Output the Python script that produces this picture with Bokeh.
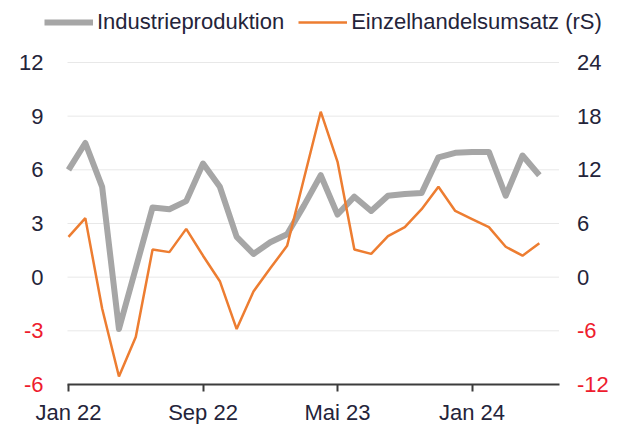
from bokeh.plotting import figure
from bokeh.models import (Range1d, FixedTicker, Legend, LegendItem,
                          LabelSet, ColumnDataSource)
from bokeh.embed import file_html
from bokeh.resources import INLINE
from bokeh.core.properties import value

# ---- data (month index 0 = Jan 22 ... 28 = Mai 24) ----
months = list(range(29))
industrie = [6.0, 7.5, 5.05, -2.9, 0.5, 3.9, 3.8, 4.25, 6.35, 5.05, 2.25, 1.3,
             1.95, 2.4, 4.0, 5.7, 3.5, 4.5, 3.7, 4.55, 4.65, 4.7, 6.7, 6.95,
             7.0, 7.0, 4.55, 6.8, 5.7]
einzelhandel = [4.5, 6.6, -3.5, -11.1, -6.7, 3.1, 2.8, 5.4, 2.4, -0.45, -5.8, -1.6,
                1.0, 3.5, 11.0, 18.5, 12.9, 3.1, 2.6, 4.6, 5.6, 7.6, 10.1, 7.4,
                6.5, 5.6, 3.4, 2.4, 3.8]
x_ticks = [0, 8, 16, 24]
x_tick_labels = ["Jan 22", "Sep 22", "Mai 23", "Jan 24"]
left_ticks = [-6, -3, 0, 3, 6, 9, 12]
right_ticks = [-12, -6, 0, 6, 12, 18, 24]
series_names = ["Industrieproduktion", "Einzelhandelsumsatz (rS)"]

# ---- style / layout ----
FONT = "Liberation Sans"
DARK = "#24243a"
RED = "#ee1c2e"
GREY = "#a6a6a6"
ORANGE = "#ed7d31"
GRID = "#e8e8e8"
AXIS = "#3c3c3c"
FS = "22px"

W, H = 608, 424                    # figure size
PL, PR, PT, PB = 67.0, 558.5, 62.0, 384.0   # plot-area pixels inside the figure
x0, x1 = -0.06, 29.17              # data range of the plot area
LEG_X, LEG_CY, LEG_H = 44, 23, 24  # legend left, vertical centre, height (px)

dx = (x1 - x0) / (PR - PL)
x_range = Range1d(x0 - PL * dx, x1 + (W - PR) * dx)
dyl = (left_ticks[-1] - left_ticks[0]) / (PB - PT)
dyr = (right_ticks[-1] - right_ticks[0]) / (PB - PT)
y_range = Range1d(left_ticks[0] - (H - PB) * dyl, left_ticks[-1] + PT * dyl)

p = figure(width=W, height=H, output_backend="svg", toolbar_location=None,
           x_range=x_range, y_range=y_range,
           min_border_left=0, min_border_right=0, min_border_top=0,
           min_border_bottom=0)
p.extra_y_ranges = {"r": Range1d(right_ticks[0] - (H - PB) * dyr,
                                 right_ticks[-1] + PT * dyr)}
p.outline_line_color = None
p.xgrid.visible = False
p.ygrid.visible = False
p.yaxis.visible = False

# horizontal gridlines across the plot area only
p.segment(x0=[x0] * len(left_ticks), x1=[x1] * len(left_ticks),
          y0=left_ticks, y1=left_ticks, line_color=GRID, line_width=1,
          level="underlay")

# x axis, fixed at the bottom of the value range
xa = p.xaxis[0]
xa.fixed_location = left_ticks[0]
xa.bounds = (x0, x1)
xa.ticker = FixedTicker(ticks=x_ticks)
xa.major_label_overrides = {t: l for t, l in zip(x_ticks, x_tick_labels)}
xa.axis_line_color = AXIS
xa.axis_line_width = 2
xa.major_tick_line_color = AXIS
xa.major_tick_line_width = 2
xa.major_tick_out = 7
xa.major_tick_in = 0
xa.minor_tick_line_color = None
xa.major_label_standoff = 8
xa.major_label_text_font = FONT
xa.major_label_text_font_size = FS
xa.major_label_text_color = DARK

# y tick labels (negative values in red)
def lab_color(t):
    return RED if t < 0 else DARK

src_l = ColumnDataSource(dict(x=[x0] * len(left_ticks), y=left_ticks,
                              text=[str(t) for t in left_ticks],
                              c=[lab_color(t) for t in left_ticks]))
src_r = ColumnDataSource(dict(x=[x1] * len(right_ticks), y=right_ticks,
                              text=[str(t) for t in right_ticks],
                              c=[lab_color(t) for t in right_ticks]))
p.add_layout(LabelSet(x="x", y="y", text="text", source=src_l, x_offset=-24,
                      text_align="right", text_baseline="middle", text_color="c",
                      text_font=value(FONT), text_font_size=FS))
p.add_layout(LabelSet(x="x", y="y", text="text", source=src_r, y_range_name="r",
                      x_offset=18, text_align="left", text_baseline="middle",
                      text_color="c", text_font=value(FONT), text_font_size=FS))

# series lines
r1 = p.line(months, industrie, line_color=GREY, line_width=6, line_join="round")
r2 = p.line(months, einzelhandel, y_range_name="r", line_color=ORANGE, line_width=2.5)

legend = Legend(items=[LegendItem(label=series_names[0], renderers=[r1]),
                       LegendItem(label=series_names[1], renderers=[r2])],
                location=(LEG_X, H - LEG_CY - LEG_H // 2), orientation="horizontal",
                glyph_width=49, glyph_height=LEG_H, label_height=LEG_H,
                label_standoff=4, spacing=14, padding=0, margin=0,
                border_line_color=None, background_fill_alpha=0,
                label_text_font=FONT, label_text_font_size=FS,
                label_text_color=DARK)
p.add_layout(legend, "center")

open("out.html", "w").write(file_html(p, INLINE))
